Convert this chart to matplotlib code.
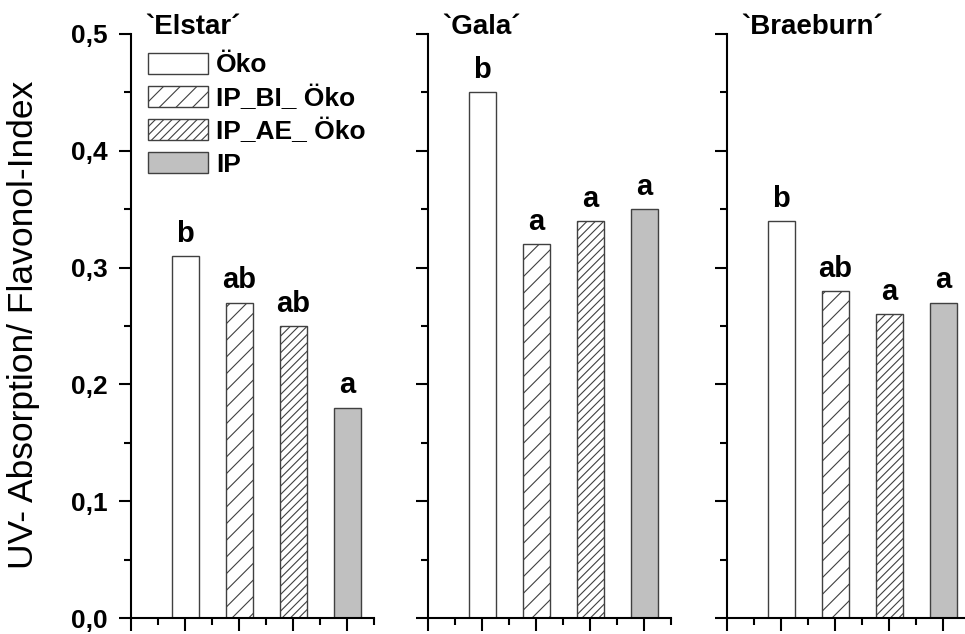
import numpy as np
import matplotlib
matplotlib.use("Agg")
import matplotlib.pyplot as plt
from matplotlib.ticker import MultipleLocator, NullFormatter

plt.rcParams['font.family'] = ['Liberation Sans', 'DejaVu Sans']
plt.rcParams['hatch.linewidth'] = 0.8

cultivars = ["`Elstar´", "`Gala´", "`Braeburn´"]
treatments = ["Öko", "IP_BI_ Öko", "IP_AE_ Öko", "IP"]
elstar = [0.31, 0.27, 0.25, 0.18]
gala = [0.45, 0.32, 0.34, 0.35]
braeburn = [0.34, 0.28, 0.26, 0.27]
letters_elstar = ["b", "ab", "ab", "a"]
letters_gala = ["b", "a", "a", "a"]
letters_braeburn = ["b", "ab", "a", "a"]

values = [elstar, gala, braeburn]
letters = [letters_elstar, letters_gala, letters_braeburn]

faces = ["white", "white", "white", "#c0c0c0"]
hatches = [None, "//", "////", None]
x = np.arange(1, len(treatments) + 1)

fig = plt.figure(figsize=(9.65, 6.34), dpi=100)
lefts = [131 / 965, 428 / 965, 727 / 965]
w = 243 / 965
bottom = 1 - 618 / 634
h = (618 - 34) / 634

for i in range(3):
    ax = fig.add_axes([lefts[i], bottom, w, h])
    bars = ax.bar(x, values[i], width=0.5, color=faces, edgecolor="#404040",
                  linewidth=1.0)
    for b, ht in zip(bars, hatches):
        if ht:
            b.set_hatch(ht)
    for xi, v, l in zip(x, values[i], letters[i]):
        ax.annotate(l, (xi, v), xytext=(0, 6), textcoords="offset points",
                    ha="center", va="bottom", fontsize=21, fontweight="bold")
    ax.set_xlim(0, 4.5)
    ax.set_ylim(0, 0.5)
    ax.xaxis.set_major_locator(MultipleLocator(1))
    ax.xaxis.set_minor_locator(MultipleLocator(0.5))
    ax.yaxis.set_major_locator(MultipleLocator(0.1))
    ax.yaxis.set_minor_locator(MultipleLocator(0.05))
    ax.xaxis.set_major_formatter(NullFormatter())
    ax.spines['top'].set_visible(False)
    ax.spines['right'].set_visible(False)
    ax.spines['left'].set_linewidth(1.5)
    ax.spines['bottom'].set_linewidth(1.5)
    ax.tick_params(which='major', direction='out', length=9, width=1.5, pad=8)
    ax.tick_params(which='minor', direction='out', length=5, width=1.5)
    if i == 0:
        ax.set_yticklabels([f"{t:.1f}".replace(".", ",") for t in ax.get_yticks()],
                           fontsize=19, fontweight="bold")
    else:
        ax.yaxis.set_major_formatter(NullFormatter())
    ax.text(0.058, 1.0, cultivars[i], transform=ax.transAxes, ha="left",
            va="baseline", fontsize=20, fontweight="bold")
    if i == 0:
        handles = [plt.Rectangle((0, 0), 1, 1, facecolor=f, edgecolor="#404040",
                                 linewidth=1.0, hatch=ht)
                   for f, ht in zip(faces, hatches)]
        ax.legend(handles, treatments, loc="upper left",
                  bbox_to_anchor=(0.07, 0.968), frameon=False,
                  prop={"size": 19, "weight": "bold"}, handlelength=2.27,
                  handleheight=0.85, labelspacing=0.3, handletextpad=0.3,
                  borderaxespad=0, borderpad=0)

fig.text(24 / 965, 1 - 325 / 634, "UV- Absorption/ Flavonol-Index",
         rotation=90, ha="center", va="center", fontsize=25.5)

fig.savefig("out.png", dpi=100)
